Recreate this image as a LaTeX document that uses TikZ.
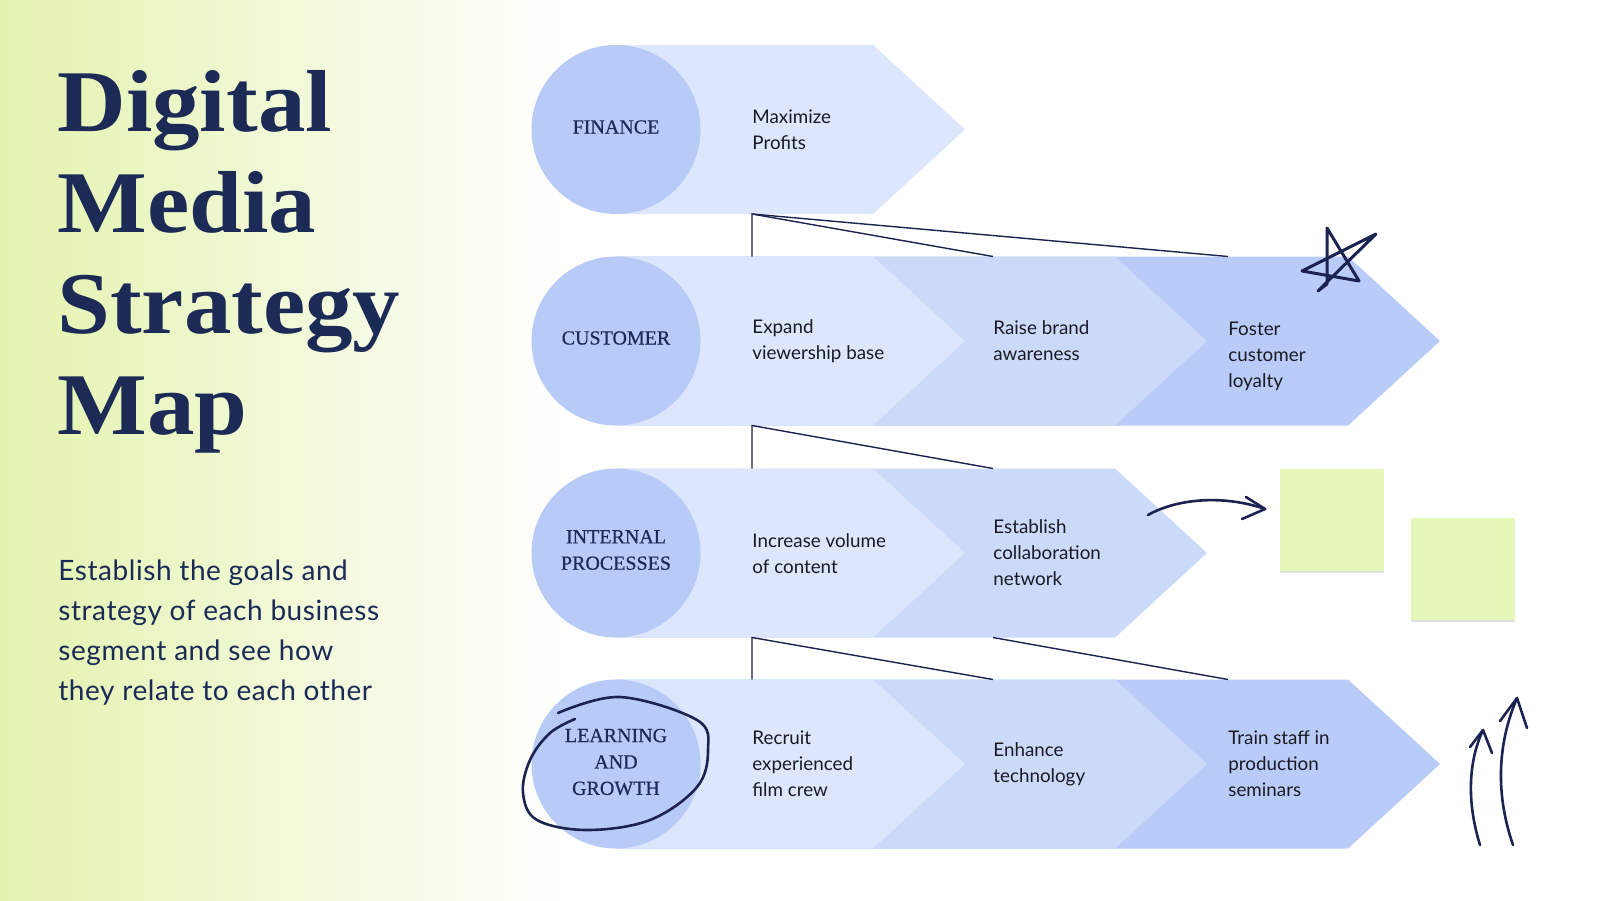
\documentclass[tikz,border=0pt]{standalone}
\usepackage{fontspec}
\setmainfont{Lato}
\newfontfamily\titlefont[FakeStretch=1.08]{Liberation Serif}
\newfontfamily\labelfont[FakeBold=0.5]{Liberation Serif}
\newfontfamily\descfont[LetterSpace=2]{Lato}
\usetikzlibrary{shadows}
\definecolor{navy}{HTML}{1C2A56}
\definecolor{segA}{HTML}{DCE6FD}
\definecolor{segB}{HTML}{CCDAF9}
\definecolor{segC}{HTML}{B9CCF7}
\definecolor{circ}{HTML}{B8CAF6}
\definecolor{lime}{HTML}{E3F3AF}
\definecolor{sticky}{HTML}{E7F6B9}
\definecolor{ink}{HTML}{1C2350}
\definecolor{txt}{HTML}{1A1A24}
\newcommand\pent[3]{\fill[#3] (616,#1-84.5) -- (#2,#1-84.5) -- (#2+92,#1) -- (#2,#1+84.5) -- (616,#1+84.5) -- cycle;}
\begin{document}
\begin{tikzpicture}[x=0.5pt,y=-0.5pt,
  catcircle/.style={circle, fill=circ, minimum size=84.5pt, inner sep=0pt},
  catlabel/.style={align=center, inner sep=0pt, text=navy, font=\labelfont\fontsize{10}{13.2}\selectfont},
  segtext/.style={anchor=west, align=left, inner sep=0pt, text=txt, font=\fontsize{9.4}{13}\selectfont},
  link/.style={draw=ink, line width=0.7pt},
  scribble/.style={draw=ink, line width=1.3pt, line cap=round, line join=round},
  stickynote/.style={fill=sticky, minimum width=52pt, minimum height=51pt, inner sep=0pt,
     drop shadow={shadow xshift=0pt, shadow yshift=-1.2pt, opacity=0.12, fill=black}}]
\useasboundingbox (0,0) rectangle (1600,900);
\fill[white] (0,0) rectangle (1600,900);
\shade[left color=lime, right color=white] (0,0) rectangle (570,900);

% title and description
\node[anchor=west, align=left, inner sep=0pt, text=navy,
      font=\titlefont\bfseries\fontsize{44}{50.5}\selectfont] (title) at (57,262) {Digital\\Media\\Strategy\\Map};
\node[anchor=west, align=left, inner sep=0pt, text=navy,
      font=\descfont\fontsize{14}{20}\selectfont] (desc) at (58,633) {Establish the goals and\\strategy of each business\\segment and see how\\they relate to each other};

% row 1
\pent{129.5}{873}{segA}
% row 2
\pent{341}{1348}{segC}
\pent{341}{1115}{segB}
\pent{341}{873}{segA}
% row 3
\pent{553}{1115}{segB}
\pent{553}{873}{segA}
% row 4
\pent{764}{1348}{segC}
\pent{764}{1115}{segB}
\pent{764}{873}{segA}

% circles and labels
\node[catcircle] (c1) at (616,129.5) {};
\node[catcircle] (c2) at (616,341) {};
\node[catcircle] (c3) at (616,553) {};
\node[catcircle] (c4) at (616,764) {};
\node[catlabel] (l1) at (616,127) {FINANCE};
\node[catlabel] (l2) at (616,338) {CUSTOMER};
\node[catlabel] (l3) at (616,550) {INTERNAL\\PROCESSES};
\node[catlabel] (l4) at (616,762) {LEARNING\\AND\\GROWTH};

% segment texts
\node[segtext] (t11) at (752,130) {Maximize\\Profits};
\node[segtext] (t21) at (752,341) {Expand\\viewership base};
\node[segtext] (t22) at (993,341) {Raise brand\\awareness};
\node[segtext] (t23) at (1228,356) {Foster\\customer\\loyalty};
\node[segtext] (t31) at (752,554) {Increase volume\\of content};
\node[segtext] (t32) at (993,553) {Establish\\collaboration\\network};
\node[segtext] (t41) at (752,764) {Recruit\\experienced\\film crew};
\node[segtext] (t42) at (993,764) {Enhance\\technology};
\node[segtext] (t43) at (1228,764) {Train staff in\\production\\seminars};

% connector anchor points on row edges
\coordinate (r1b) at (752,214);
\coordinate (r2tA) at (752,256.5);
\coordinate (r2tB) at (993,256.5);
\coordinate (r2tC) at (1228,256.5);
\coordinate (r2b) at (752,425.5);
\coordinate (r3tA) at (752,468.5);
\coordinate (r3tB) at (993,468.5);
\coordinate (r3bA) at (752,637.5);
\coordinate (r3bB) at (993,637.5);
\coordinate (r4tA) at (752,679.5);
\coordinate (r4tB) at (993,679.5);
\coordinate (r4tC) at (1228,679.5);
\draw[link] (r2tA) -- (r1b) -- (r2tB);
\draw[link] (r1b) -- (r2tC);
\draw[link] (r3tA) -- (r2b) -- (r3tB);
\draw[link] (r4tA) -- (r3bA) -- (r4tB);
\draw[link] (r3bB) -- (r4tC);

% sticky notes
\node[stickynote] (s1) at (1332,520) {};
\node[stickynote] (s2) at (1463,569) {};

% hand-drawn marks
\coordinate (a1s) at (1148,515);
\coordinate (a1e) at (1265,509);
\draw[scribble] (a1s) .. controls (1178,498) and (1225,495) .. (a1e);
\draw[scribble] (1246,497) -- (a1e) -- (1242,519);

\coordinate (a2s) at (1480,845);
\coordinate (a2e) at (1483,730);
\draw[scribble] (a2s) .. controls (1466,800) and (1469,760) .. (a2e);
\draw[scribble] (1470,747) -- (a2e) -- (1492,753);

\coordinate (a3s) at (1513,845);
\coordinate (a3e) at (1517,698);
\draw[scribble] (a3s) .. controls (1494,790) and (1499,740) .. (a3e);
\draw[scribble] (1500,721) -- (a3e) -- (1527,728);

\draw[scribble, line width=1.5pt] (1318,291) -- (1328,281) -- (1376,234) -- (1302,271) -- (1359,281) -- (1327,228) -- (1327,284) -- (1318,291);

\draw[scribble] plot[smooth, tension=0.6] coordinates {(558,713) (620,697) (697,720) (708,750) (697,787) (650,820) (587,830) (537,820) (523,793) (530,760) (550,733) (575,719)};
\end{tikzpicture}
\end{document}
